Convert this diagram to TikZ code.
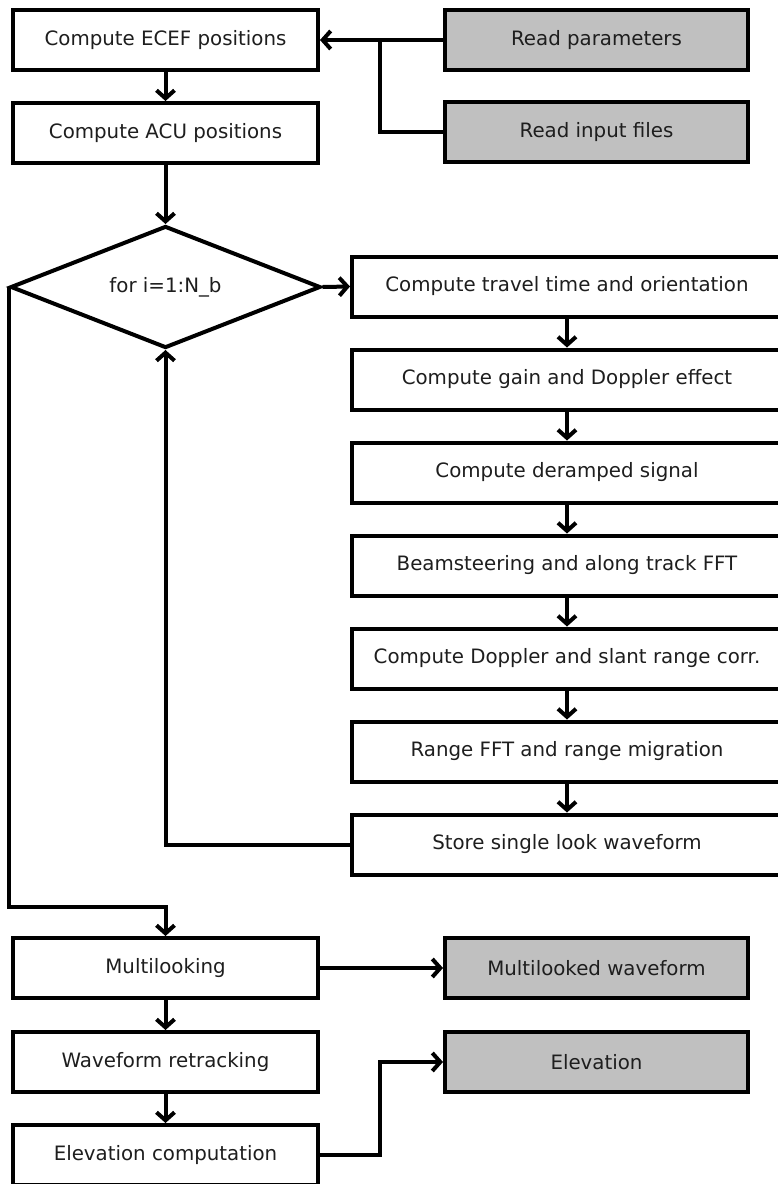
\documentclass[tikz,border=0pt]{standalone}
\usepackage{fontspec}
\setmainfont{DejaVu Sans}
\usetikzlibrary{shapes.geometric,arrows.meta}
\definecolor{boxgray}{HTML}{C0C0C0}
\definecolor{txt}{HTML}{1E1E1E}
\tikzset{
  base/.style={draw=black, line width=4pt, inner sep=0pt, text=txt,
    font=\fontsize{19.8}{23}\selectfont},
  leftbox/.style={base, rectangle, fill=white, minimum width=305pt, minimum height=60pt},
  graybox/.style={base, rectangle, fill=boxgray, minimum width=303pt, minimum height=60pt},
  rightbox/.style={base, rectangle, fill=white, minimum width=430pt, minimum height=60pt},
  loopdia/.style={base, diamond, shape aspect=2.54, fill=white, minimum width=310pt, minimum height=122pt},
  conn/.style={draw=black, line width=4pt},
  arr/.style={conn, -{Straight Barb[length=8pt,width=18pt,line width=4pt]}},
}
\begin{document}
\begin{tikzpicture}[x=1pt,y=-1pt]
\useasboundingbox (0,0) rectangle (777,1184);
% left column
\node[leftbox] (ecef) at (165.5,40) {Compute ECEF positions};
\node[leftbox] (acu) at (165.5,133) {Compute ACU positions};
\node[graybox] (rp) at (596.5,40) {Read parameters};
\node[graybox] (rif) at (596.5,132) {Read input files};
\node[loopdia] (loop) at (165.5,287) {for i=1:N\_b};
% right column
\node[rightbox] (r1) at (567,286.5) {Compute travel time and orientation};
\node[rightbox] (r2) at (567,379.5) {Compute gain and Doppler effect};
\node[rightbox] (r3) at (567,472.5) {Compute deramped signal};
\node[rightbox] (r4) at (567,565.5) {Beamsteering and along track FFT};
\node[rightbox] (r5) at (567,658.5) {Compute Doppler and slant range corr.};
\node[rightbox] (r6) at (567,751.5) {Range FFT and range migration};
\node[rightbox] (r7) at (567,844.5) {Store single look waveform};
% bottom
\node[leftbox] (ml) at (165.5,968) {Multilooking};
\node[graybox] (mlw) at (596.5,968) {Multilooked waveform};
\node[leftbox] (wr) at (165.5,1062) {Waveform retracking};
\node[graybox] (elev) at (596.5,1062) {Elevation};
\node[leftbox] (ec) at (165.5,1155) {Elevation computation};
% junctions
\coordinate (j1) at (380,40);
\coordinate (j2) at (380,1062);
\coordinate (c1) at (10,907);
% connectors
\draw[arr] (rp.west) -- (ecef.east);
\draw[conn] (rif.west) -| (j1);
\draw[arr] (ecef) -- (acu);
\draw[arr] (acu) -- (loop.north);
\draw[arr] (loop.east) -- (r1.west);
\draw[arr] (r1) -- (r2);
\draw[arr] (r2) -- (r3);
\draw[arr] (r3) -- (r4);
\draw[arr] (r4) -- (r5);
\draw[arr] (r5) -- (r6);
\draw[arr] (r6) -- (r7);
\draw[arr] (r7.west) -| (loop.south);
\draw[arr] (loop.west) -- (loop.west |- c1) -| (ml.north);
\draw[arr] (ml.east) -- (mlw.west);
\draw[arr] (ml) -- (wr);
\draw[arr] (wr) -- (ec);
\draw[arr] (ec.east) -| (j2) -- (elev.west);
\end{tikzpicture}
\end{document}
